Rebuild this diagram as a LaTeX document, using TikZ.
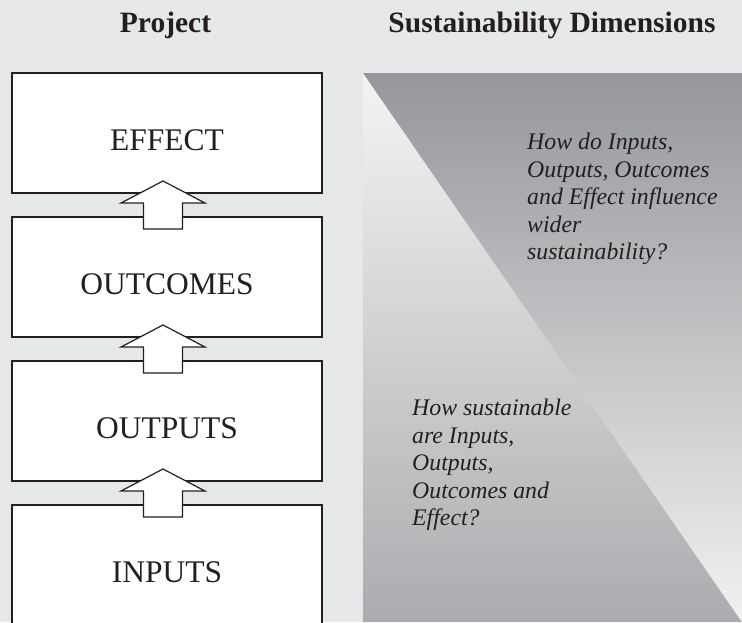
\documentclass[tikz,border=0pt]{standalone}
\usepackage{fontspec}
\setmainfont{Liberation Serif}
\usetikzlibrary{calc}
\definecolor{bg}{HTML}{E6E7E8}
\definecolor{rtop}{HTML}{96979B}
\definecolor{rbot}{HTML}{F1F1F2}
\definecolor{ltop}{HTML}{F4F4F4}
\definecolor{lbot}{HTML}{ABACAF}
\definecolor{ink}{HTML}{231F20}
\tikzset{
  box/.style={draw=ink, line width=1.3pt, fill=white, minimum width=310pt,
    minimum height=120pt, inner sep=0pt, outer sep=0pt, anchor=north west},
  boxtext/.style={font=\fontsize{31.5}{36}\selectfont, text=ink, anchor=base, inner sep=0pt},
  head/.style={font=\fontsize{29.5}{33}\selectfont\bfseries, text=ink, anchor=base, inner sep=0pt},
  qtext/.style={font=\fontsize{23.8}{27.5}\selectfont\itshape, text=ink, align=left,
    anchor=north west, inner sep=0pt},
  blockarrow/.style={draw=ink, line width=1.2pt, fill=white, line join=miter}
}
\newcommand{\upblock}[2]{%
  \draw[blockarrow] ($(#1.south)+(-4,-12)$) -- ($(#1.south)+(38,10)$)
    -- ($(#1.south)+(15.5,10)$) -- ($(#2.north)+(15.5,12)$)
    -- ($(#2.north)+(-23.5,12)$) -- ($(#1.south)+(-23.5,10)$)
    -- ($(#1.south)+(-46,10)$) -- cycle;}
\begin{document}
\begin{tikzpicture}[x=1pt,y=-1pt]
\useasboundingbox (0,0) rectangle (742,622);
\fill[bg] (0,0) rectangle (742,622);
% sustainability panel
\shade[top color=ltop, bottom color=lbot] (363,73) -- (742,622) -- (363,622) -- cycle;
\shade[top color=rtop, bottom color=rbot] (363,73) -- (742,73) -- (742,622) -- cycle;
% headings
\node[head] (hproject) at (165.5,32) {Project};
\node[head] (hsust) at (552,32) {Sustainability Dimensions};
% boxes
\node[box] (effect) at (12,73) {};
\node[box] (outcomes) at (12,217) {};
\node[box] (outputs) at (12,361) {};
\node[box, minimum height=140pt] (inputs) at (12,505) {};
\node[boxtext] (teffect) at ($(effect.north)+(0,77)$) {EFFECT};
\node[boxtext] (toutcomes) at ($(outcomes.north)+(0,77)$) {OUTCOMES};
\node[boxtext] (toutputs) at ($(outputs.north)+(0,77)$) {OUTPUTS};
\node[boxtext] (tinputs) at ($(inputs.north)+(0,77)$) {INPUTS};
% arrows
\upblock{effect}{outcomes}
\upblock{outcomes}{outputs}
\upblock{outputs}{inputs}
% questions
\node[qtext] (q1) at (527,133) {How do Inputs,\\Outputs, Outcomes\\and Effect influence\\wider\\sustainability?};
\node[qtext] (q2) at (412,399) {How sustainable\\are Inputs,\\Outputs,\\Outcomes and\\Effect?};
\end{tikzpicture}
\end{document}
